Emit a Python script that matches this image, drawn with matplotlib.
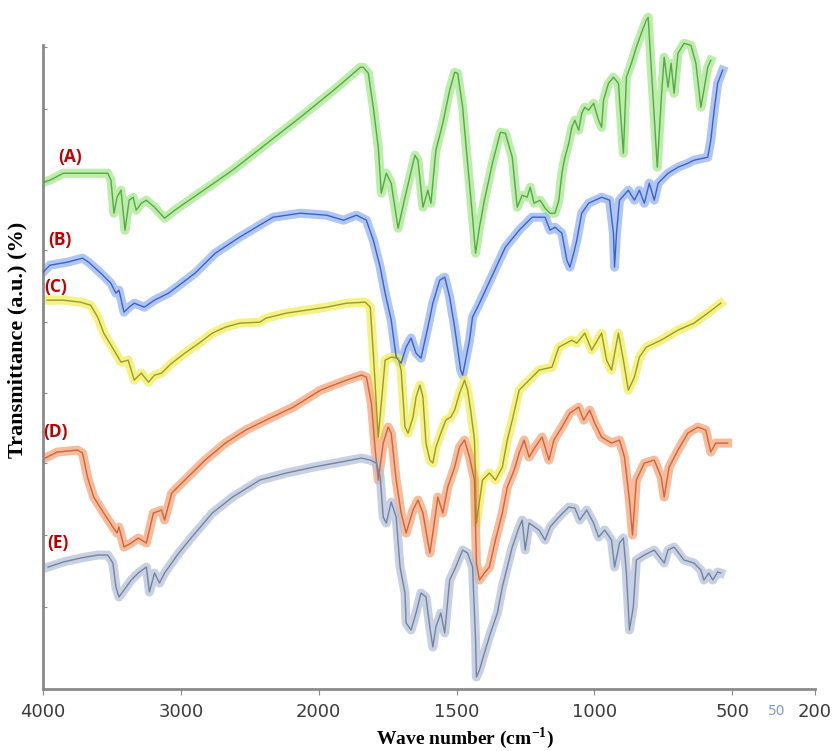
import numpy as np
import matplotlib
matplotlib.use("Agg")
import matplotlib.pyplot as plt

plt.rcParams["mathtext.fontset"] = "custom"
plt.rcParams["mathtext.rm"] = "Liberation Serif:bold"
plt.rcParams["mathtext.bf"] = "Liberation Serif:bold"

# %% spectra (wavenumber cm-1, transmittance a.u.)
wn_a = [4000, 3950, 3853, 3750, 3603, 3530, 3507, 3485, 3463, 3434, 3405, 3375, 3346, 3324, 3287, 3250,
        3191, 3118, 3044, 2625, 2133, 1946, 1874, 1849, 1838, 1820, 1802, 1784, 1773, 1755, 1737, 1712,
        1687, 1651, 1640, 1622, 1604, 1593, 1575, 1550, 1525, 1507, 1496, 1478, 1460, 1442, 1431, 1417,
        1399, 1370, 1341, 1323, 1298, 1280, 1262, 1244, 1233, 1219, 1197, 1179, 1161, 1143, 1129, 1118,
        1107, 1093, 1082, 1071, 1057, 1046, 1035, 1021, 1003, 985, 974, 967, 949, 931, 913, 895, 884,
        866, 848, 830, 812, 805, 794, 783, 772, 758, 747, 733, 722, 711, 697, 675, 650, 632, 614, 603,
        589, 578]
t_a = [50.7, 50.9, 51.6, 51.6, 51.6, 51.6, 50.9, 47.6, 49.2, 49.9, 45.9, 48.9, 49.2, 47.9, 48.6, 48.9,
       48.2, 47.1, 47.9, 51.9, 57.2, 59.9, 61.6, 62.2, 62.2, 61.6, 58.2, 54.2, 49.6, 51.6, 50.6, 46.1,
       49.2, 53.4, 52.9, 48.2, 49.9, 48.6, 53.9, 56.6, 59.9, 61.7, 61.6, 58.2, 52.6, 47.2, 43.6, 46.2,
       48.9, 52.6, 55.7, 55.6, 53.2, 48.2, 49.4, 49.2, 50.2, 48.6, 48.9, 48.1, 47.6, 47.6, 48.9, 51.6,
       53.2, 54.6, 56.2, 56.9, 55.9, 57.6, 58.2, 57.9, 58.6, 56.9, 56.2, 58.9, 60.6, 61.2, 60.6, 53.6, 61.2,
       62.6, 64.2, 65.6, 66.9, 67.2, 62.2, 57.2, 52.2, 58.9, 63.2, 60.2, 62.6, 59.6, 63.6, 64.6, 64.4, 62.6,
       58.2, 59.9, 62.2, 62.9]

wn_b = [4000, 3949, 3824, 3713, 3669, 3581, 3508, 3471, 3449, 3412, 3375, 3338, 3265, 3191, 3089, 2993,
        2897, 2750, 2574, 2405, 2331, 2133, 1971, 1910, 1863, 1827, 1802, 1777, 1759, 1737, 1719, 1701,
        1683, 1665, 1647, 1629, 1604, 1586, 1561, 1543, 1525, 1507, 1485, 1478, 1453, 1442, 1417, 1395,
        1370, 1323, 1273, 1226, 1179, 1161, 1143, 1118, 1100, 1089, 1075, 1064, 1046, 1021, 974, 945, 931,
        927, 920, 909, 877, 855, 837, 819, 801, 783, 769, 733, 697, 661, 639, 589, 578, 567, 553, 535]
t_b = [41.7, 42.4, 42.7, 43.1, 42.7, 41.6, 40.6, 39.6, 39.9, 37.7, 38.2, 38.6, 38.2, 38.9, 39.6, 40.6,
       41.6, 43.6, 45.2, 46.6, 47.2, 47.6, 47.4, 46.9, 47.4, 46.9, 44.9, 42.2, 39.6, 36.9, 33.2, 32.6,
       34.2, 35.1, 33.6, 33.1, 36.2, 38.6, 40.9, 41.2, 39.2, 36.2, 31.9, 31.4, 34.9, 37.2, 38.6, 39.9,
       41.4, 44.2, 45.9, 47.2, 47.2, 45.9, 46.2, 45.6, 42.9, 42.2, 43.6, 44.9, 47.6, 48.6, 49.2, 48.9, 45.6,
       42.2, 45.6, 48.9, 49.9, 48.9, 49.9, 48.6, 50.6, 48.9, 50.6, 51.6, 52.2, 52.6, 52.9, 53.2, 54.9, 57.6,
       60.6, 61.9]

wn_c = [3971, 3853, 3728, 3655, 3603, 3559, 3485, 3434, 3382, 3338, 3287, 3235, 3191, 3140, 3066, 2971,
        2868, 2772, 2677, 2574, 2427, 2383, 2236, 2089, 1971, 1899, 1831, 1813, 1802, 1784, 1773, 1759,
        1737, 1712, 1701, 1687, 1676, 1658, 1647, 1633, 1622, 1611, 1597, 1586, 1575, 1557, 1539, 1521,
        1507, 1489, 1471, 1460, 1449, 1435, 1428, 1406, 1381, 1359, 1334, 1316, 1298, 1273, 1226, 1201,
        1154, 1129, 1082, 1064, 1035, 1010, 974, 956, 938, 913, 895, 877, 855, 837, 812, 758, 697, 639,
        589, 542]
t_c = [38.9, 38.9, 38.7, 38.4, 37.2, 35.6, 33.9, 32.7, 32.9, 30.9, 31.6, 30.7, 31.4, 31.6, 32.6, 33.6,
       34.6, 35.6, 36.2, 36.6, 36.7, 37.1, 37.6, 37.9, 38.2, 38.6, 38.7, 38.2, 33.6, 25.2, 28.6, 32.9,
       33.2, 33.1, 31.9, 26.2, 25.6, 27.2, 29.2, 30.4, 29.2, 24.6, 22.9, 22.6, 24.2, 25.6, 26.9, 27.2,
       27.9, 29.6, 30.9, 29.9, 27.9, 24.9, 16.6, 20.9, 21.6, 20.9, 22.2, 24.9, 26.9, 29.9, 31.2, 31.9,
       32.2, 34.2, 34.9, 34.6, 35.6, 33.9, 35.6, 32.9, 31.9, 35.6, 32.9, 29.9, 31.2, 33.2, 34.2, 34.9,
       35.9, 36.6, 37.6, 38.6]

wn_d = [3985, 3897, 3750, 3713, 3677, 3632, 3559, 3493, 3463, 3449, 3412, 3360, 3309, 3250, 3199, 3140,
        3118, 3066, 2971, 2824, 2677, 2530, 2383, 2184, 1993, 1899, 1845, 1827, 1809, 1795, 1784, 1766,
        1748, 1737, 1719, 1701, 1683, 1658, 1640, 1622, 1597, 1586, 1568, 1550, 1532, 1507, 1489, 1471,
        1453, 1435, 1428, 1417, 1399, 1381, 1359, 1334, 1316, 1291, 1273, 1255, 1237, 1215, 1190, 1165,
        1147, 1118, 1089, 1057, 1039, 1017, 999, 974, 938, 909, 891, 873, 862, 848, 819, 783, 758, 747,
        729, 697, 661, 625, 596, 578, 560, 517]
t_d = [23.1, 23.7, 23.9, 23.6, 21.2, 19.2, 17.6, 16.2, 15.6, 16.2, 14.2, 14.6, 15.1, 14.6, 17.6, 17.9,
       16.9, 19.6, 20.9, 22.9, 24.6, 25.9, 26.9, 28.2, 29.9, 30.9, 31.4, 31.2, 28.6, 23.9, 20.9, 24.6,
       26.2, 25.6, 20.9, 17.6, 15.6, 17.9, 18.9, 17.6, 13.6, 15.6, 19.2, 17.6, 20.2, 22.2, 24.2, 24.9,
       23.2, 20.9, 12.6, 10.9, 11.6, 12.2, 14.9, 17.6, 20.2, 21.9, 23.6, 24.9, 23.2, 24.2, 25.2, 22.9,
       24.9, 26.2, 27.6, 28.2, 26.9, 27.9, 26.6, 25.2, 24.6, 24.9, 23.2, 18.9, 15.4, 20.9, 22.6, 22.9,
       21.2, 19.2, 22.2, 23.9, 25.6, 26.2, 25.9, 23.7, 24.6, 24.6]

wn_e = [3963, 3853, 3728, 3603, 3530, 3493, 3471, 3449, 3412, 3360, 3309, 3250, 3228, 3191, 3155, 3118,
        3015, 2920, 2772, 2625, 2427, 2236, 2037, 1921, 1845, 1813, 1791, 1777, 1766, 1755, 1737, 1719,
        1705, 1687, 1683, 1665, 1647, 1629, 1611, 1597, 1586, 1575, 1557, 1543, 1525, 1503, 1478, 1460,
        1442, 1431, 1428, 1417, 1399, 1377, 1352, 1334, 1316, 1298, 1273, 1262, 1251, 1237, 1201, 1179,
        1161, 1129, 1093, 1071, 1053, 1028, 1003, 985, 963, 938, 927, 909, 895, 884, 873, 859, 848, 819,
        783, 747, 733, 711, 675, 639, 614, 603, 585, 571, 553, 542]
t_e = [12.2, 12.7, 13.1, 13.4, 13.4, 12.6, 10.2, 9.2, 9.9, 10.9, 11.6, 12.2, 9.7, 11.6, 10.6, 11.6,
       13.6, 15.2, 17.6, 19.2, 20.9, 21.6, 22.2, 22.7, 23.1, 22.9, 22.6, 21.2, 17.2, 16.6, 18.7, 17.2,
       12.2, 9.6, 6.6, 5.9, 7.6, 9.6, 9.2, 6.2, 4.2, 6.2, 7.6, 5.6, 10.9, 12.2, 13.9, 13.6,
       12.2, 4.9, 1.2, 1.9, 3.6, 5.6, 7.6, 10.2, 12.2, 14.2, 16.2, 16.9, 13.9, 16.6, 15.9, 14.9,
       16.2, 17.2, 18.2, 18.1, 16.9, 17.9, 16.6, 15.2, 15.9, 14.9, 12.2, 14.6, 15.1, 11.6, 5.9, 8.2, 12.9,
       13.4, 13.9, 12.6, 13.9, 14.2, 12.9, 12.6, 11.9, 10.9, 11.6, 10.9, 11.7, 11.6]

labels = ["(A)", "(B)", "(C)", "(D)", "(E)"]
halo_colors = ["#a6e88e", "#94b4f0", "#f0ee5a", "#f4a578", "#b6c2da"]
line_colors = ["#58a848", "#3c62c8", "#9c9a2c", "#d0643a", "#74849f"]
label_pos = [(3800, 53.2), (3875, 44.9), (3905, 40.2), (3912, 25.7), (3890, 14.6)]

xticks = [4000, 3000, 2000, 1500, 1000, 500, 200]


# wavenumber axis is stretched x2 below 2000 cm-1
def fwd(w):
    w = np.asarray(w, float)
    return np.where(w >= 2000, w, 2 * w - 2000)


def inv(g):
    g = np.asarray(g, float)
    return np.where(g >= 2000, g, (g + 2000) / 2)


fig = plt.figure(figsize=(8.33, 7.51), dpi=100)
ax = fig.add_axes([0.0516, 0.0826, 0.9268, 0.905])
ax.set_xscale("function", functions=(fwd, inv))

spectra = [(wn_a, t_a), (wn_b, t_b), (wn_c, t_c), (wn_d, t_d), (wn_e, t_e)]
for (wn, t), hc, lc in zip(spectra, halo_colors, line_colors):
    ax.plot(wn, t, color=hc, lw=6.5, alpha=0.75, solid_joinstyle="round", zorder=2)
    ax.plot(wn, t, color=lc, lw=1.0, zorder=3)

for lab, (x, y) in zip(labels, label_pos):
    ax.text(x, y, lab, color="#c00000", fontsize=12.5, fontweight="bold",
            family=["Open Sans", "DejaVu Sans"], ha="center", va="center")

ax.set_xlim(4000, 200)
ax.set_ylim(0, 68)
ax.set_xticks(xticks)
ax.set_xticklabels([str(v) for v in xticks], family=["Liberation Sans Narrow", "DejaVu Sans"],
                   fontsize=13, color="#3a3a3a")
ax.set_yticks([8.2, 15.4, 22.6, 29.6, 36.7, 43.9, 50.7, 58.0, 64.2])
ax.set_yticklabels([])
ax.tick_params(axis="y", direction="in", length=3, color="#888888")
ax.tick_params(axis="x", direction="out", length=4, color="#888888", pad=6)
ax.spines["top"].set_visible(False)
ax.spines["right"].set_visible(False)
for s in ["left", "bottom"]:
    ax.spines[s].set_color("#8a8a8a")
    ax.spines[s].set_linewidth(2)
ax.spines["left"].set_bounds(0, 64.4)

ax.text(338, -2.2, "50", color="#7f9ccc", fontsize=10, ha="center", va="center")

fig.text(0.558, 0.017, r"Wave number (cm$^{-1}$)", fontsize=14, fontweight="bold",
         family="Liberation Serif", ha="center", va="center")
fig.text(0.021, 0.547, "Transmittance (a.u.) (%)", fontsize=16, fontweight="bold",
         family="Liberation Serif", ha="center", va="center", rotation=90)

fig.savefig("out.png", dpi=100)
